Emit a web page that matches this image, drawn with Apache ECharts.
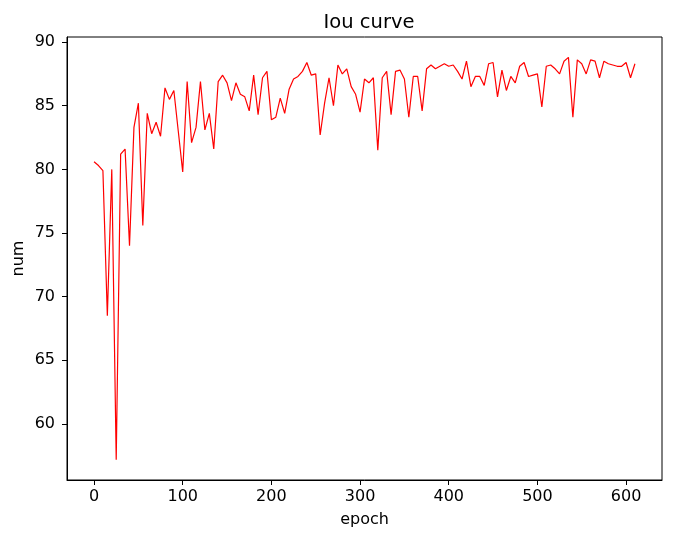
<!DOCTYPE html>
<html>
<head>
<meta charset="utf-8">
<script src="https://cdn.jsdelivr.net/npm/echarts@6/dist/echarts.min.js"></script>
<style>
  html, body { margin: 0; padding: 0; background: #fff; }
  #chart { width: 673px; height: 540px; }
</style>
</head>
<body>
<div id="chart"></div>
<script>
// epochs (x values)
const epochs = [
    0, 5, 10, 15, 20, 25, 30, 35, 40, 45, 50, 55, 60, 65, 70, 75, 80, 85, 90, 95,
    100, 105, 110, 115, 120, 125, 130, 135, 140, 145, 150, 155, 160, 165, 170, 175, 180, 185, 190, 195,
    200, 205, 210, 215, 220, 225, 230, 235, 240, 245, 250, 255, 260, 265, 270, 275, 280, 285, 290, 295,
    300, 305, 310, 315, 320, 325, 330, 335, 340, 345, 350, 355, 360, 365, 370, 375, 380, 385, 390, 395,
    400, 405, 410, 415, 420, 425, 430, 435, 440, 445, 450, 455, 460, 465, 470, 475, 480, 485, 490, 495,
    500, 505, 510, 515, 520, 525, 530, 535, 540, 545, 550, 555, 560, 565, 570, 575, 580, 585, 590, 595,
    600, 605, 610
];
// iou values
const iou = [
    80.6, 80.3, 79.9, 68.5, 80.0, 57.2, 81.2, 81.6, 74.0, 83.3, 85.2, 75.6, 84.4, 82.8, 83.7, 82.6, 86.4, 85.5, 86.2, 83.0,
    79.8, 86.9, 82.1, 83.3, 86.9, 83.1, 84.4, 81.6, 86.9, 87.4, 86.8, 85.4, 86.8, 85.9, 85.7, 84.6, 87.4, 84.3, 87.2, 87.7,
    83.9, 84.1, 85.6, 84.4, 86.3, 87.1, 87.3, 87.7, 88.4, 87.4, 87.5, 82.7, 85.2, 87.2, 85.0, 88.2, 87.5, 87.9, 86.5, 85.9,
    84.5, 87.1, 86.8, 87.2, 81.5, 87.2, 87.7, 84.3, 87.7, 87.8, 87.1, 84.1, 87.3, 87.3, 84.6, 87.9, 88.2, 87.9, 88.1, 88.3,
    88.1, 88.2, 87.7, 87.1, 88.5, 86.5, 87.3, 87.3, 86.6, 88.3, 88.4, 85.7, 87.8, 86.2, 87.3, 86.8, 88.1, 88.4, 87.3, 87.4,
    87.5, 84.9, 88.1, 88.2, 87.9, 87.5, 88.5, 88.8, 84.1, 88.6, 88.3, 87.5, 88.6, 88.5, 87.2, 88.5, 88.3, 88.2, 88.1, 88.1,
    88.4, 87.2, 88.3
];
const xTicks = [0, 100, 200, 300, 400, 500, 600];
const yTicks = [60, 65, 70, 75, 80, 85, 90];

const chart = echarts.init(document.getElementById('chart'));
const font = 'DejaVu Sans';
const axisCommon = {
    axisLine: { show: true, onZero: false, lineStyle: { color: '#000', width: 1 } },
    axisTick: { show: true, inside: false, length: 5, lineStyle: { color: '#000', width: 1 } },
    splitLine: { show: false },
    nameMoveOverlap: false,
    nameTextStyle: { color: '#000', fontSize: 16, fontFamily: font }
};
chart.setOption({
    animation: false,
    title: {
        text: 'Iou curve',
        left: 364,
        textAlign: 'center',
        top: 8,
        textStyle: { color: '#000', fontSize: 19.5, fontWeight: 'normal', fontFamily: font }
    },
    grid: {
        left: 67, right: 11, top: 37, bottom: 60,
        show: true, borderColor: '#000', borderWidth: 1, backgroundColor: 'transparent'
    },
    xAxis: Object.assign({}, axisCommon, {
        type: 'value',
        min: -30.5,
        max: 640.5,
        name: 'epoch',
        nameLocation: 'middle',
        nameGap: 32,
        axisTick: Object.assign({}, axisCommon.axisTick, { customValues: xTicks }),
        axisLabel: { customValues: xTicks, color: '#000', fontSize: 16, fontFamily: font, margin: 9 }
    }),
    yAxis: Object.assign({}, axisCommon, {
        type: 'value',
        min: 55.6,
        max: 90.4,
        name: 'num',
        nameLocation: 'middle',
        nameGap: 40,
        nameRotate: 90,
        axisTick: Object.assign({}, axisCommon.axisTick, { customValues: yTicks }),
        axisLabel: { customValues: yTicks, color: '#000', fontSize: 16, fontFamily: font, margin: 12 }
    }),
    series: [{
        type: 'line',
        data: epochs.map((e, i) => [e, iou[i]]),
        showSymbol: false,
        symbol: 'none',
        lineStyle: { color: '#ff0000', width: 1.2 },
        itemStyle: { color: '#ff0000' }
    }]
});
</script>
</body>
</html>
